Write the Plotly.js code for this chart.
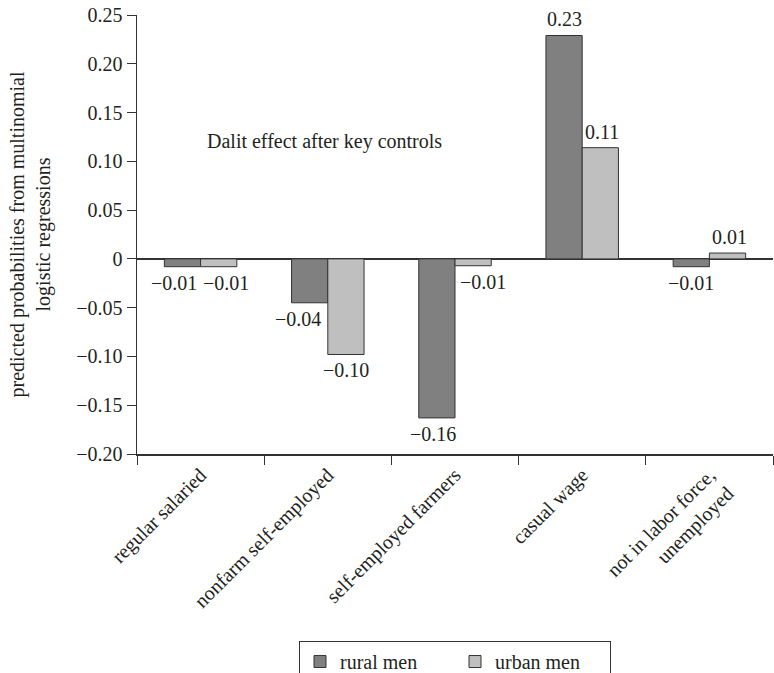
<!DOCTYPE html>
<html>
<head>
<meta charset="utf-8">
<script src="https://cdn.plot.ly/plotly-3.0.1.min.js"></script>
<style>html,body{margin:0;padding:0;background:#fff;}#chart{width:774px;height:673px;}</style>
</head>
<body>
<div id="chart"></div>
<script>
const categories = ["regular salaried", "nonfarm self-employed", "self-employed farmers", "casual wage", "not in labor force,<br>unemployed"];
const ruralMen = [-0.008, -0.045, -0.163, 0.229, -0.008];
const urbanMen = [-0.008, -0.098, -0.007, 0.114, 0.006];
const ruralLabels = ["−0.01", "−0.04", "−0.16", "0.23", "−0.01"];
const urbanLabels = ["−0.01", "−0.10", "−0.01", "0.11", "0.01"];
const yTickVals = [0.25, 0.20, 0.15, 0.10, 0.05, 0, -0.05, -0.10, -0.15, -0.20];
const yTickText = ["0.25", "0.20", "0.15", "0.10", "0.05", "0", "−0.05", "−0.10", "−0.15", "−0.20"];

// label placement nudges (pixels) so neighbouring labels do not collide
const ruralNudge = [-27, -30, -22, -18, -18];
const urbanNudge = [25, 18, 28, 20, 20];

const FONT = "'Liberation Serif', serif";
const TXT = "#231f20";
const FS = 20;

const traces = [
  {type: "bar", name: "rural men", x: categories, y: ruralMen,
   marker: {color: "#808080", line: {color: "#333333", width: 1}}, hoverinfo: "none"},
  {type: "bar", name: "urban men", x: categories, y: urbanMen,
   marker: {color: "#bfbfbf", line: {color: "#333333", width: 1}}, hoverinfo: "none"}
];

const annotations = [{text: "Dalit effect after key controls", xref: "paper", yref: "y",
  x: 0.107, y: 0.12, xanchor: "left", yanchor: "middle", showarrow: false,
  font: {family: FONT, size: FS, color: TXT}}];

function addLabels(vals, labels, nudge) {
  vals.forEach(function (v, i) {
    annotations.push({
      xref: "x", yref: "y", x: categories[i], y: v, text: labels[i], showarrow: false,
      xanchor: "center", yanchor: v < 0 ? "top" : "bottom",
      xshift: nudge[i], yshift: v < 0 ? -3 : 3,
      font: {family: FONT, size: FS, color: TXT}
    });
  });
}
addLabels(ruralMen, ruralLabels, ruralNudge);
addLabels(urbanMen, urbanLabels, urbanNudge);

const layout = {
  width: 774, height: 673,
  margin: {l: 137, r: 1, t: 15, b: 219, autoexpand: false},
  paper_bgcolor: "#ffffff", plot_bgcolor: "#ffffff",
  font: {family: FONT, size: FS, color: TXT},
  barmode: "group", bargap: 0.43, bargroupgap: 0,
  showlegend: true,
  legend: {orientation: "h", xref: "paper", x: 0.5, xanchor: "center",
           yref: "container", y: 0.0475, yanchor: "top",
           bordercolor: "#333333", borderwidth: 1, font: {family: FONT, size: FS, color: TXT},
           traceorder: "normal", entrywidth: 110},
  xaxis: {type: "category", tickangle: -45, tickson: "boundaries", ticks: "outside", ticklen: 9,
          tickcolor: "#333333", showline: true, linecolor: "#333333", linewidth: 1.5,
          showgrid: false, zeroline: false, automargin: false,
          tickfont: {family: FONT, size: FS, color: TXT}},
  yaxis: {range: [-0.20, 0.25], tickvals: yTickVals, ticktext: yTickText, ticks: "outside",
          ticklen: 9, tickcolor: "#333333", showline: true, linecolor: "#333333", linewidth: 1.5,
          showgrid: false, zeroline: true, zerolinecolor: "#333333", zerolinewidth: 1.5,
          automargin: false, tickfont: {family: FONT, size: FS, color: TXT},
          title: {text: "predicted probabilities from multinomial<br>logistic regressions",
                  font: {family: FONT, size: FS, color: TXT}, standoff: 20}},
  annotations: annotations
};

Plotly.newPlot("chart", traces, layout, {displayModeBar: false, staticPlot: true});
</script>
</body>
</html>
